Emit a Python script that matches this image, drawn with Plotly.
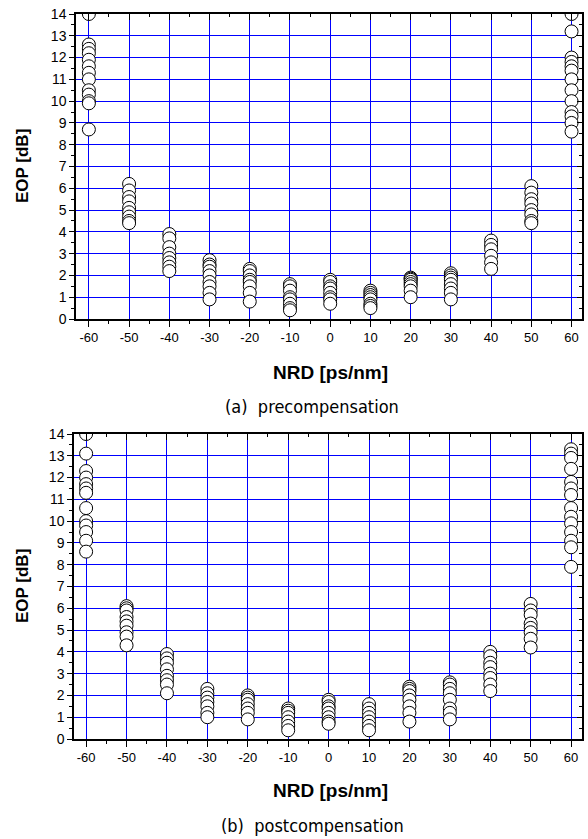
import plotly.graph_objects as go

# NRD positions [ps/nm]
nrd = [-60, -50, -40, -30, -20, -10, 0, 10, 20, 30, 40, 50, 60]

# (a) precompensation: EOP [dB] per NRD
pre_m60 = [14.0, 12.6, 12.4, 12.2, 11.9, 11.6, 11.3, 11.0, 10.5, 10.3, 10.0, 9.9, 8.7]
pre_m50 = [6.2, 5.9, 5.6, 5.4, 5.1, 4.9, 4.7, 4.5, 4.4]
pre_m40 = [3.9, 3.7, 3.3, 3.0, 2.8, 2.6, 2.4, 2.2]
pre_m30 = [2.7, 2.5, 2.4, 2.2, 2.0, 1.7, 1.5, 1.2, 0.9]
pre_m20 = [2.3, 2.2, 2.0, 1.8, 1.7, 1.5, 1.2, 0.8]
pre_m10 = [1.6, 1.5, 1.3, 1.0, 0.9, 0.7, 0.5, 0.4]
pre_0 = [1.8, 1.7, 1.5, 1.4, 1.2, 1.0, 0.9, 0.7]
pre_10 = [1.3, 1.2, 1.1, 1.0, 0.9, 0.7, 0.6, 0.5]
pre_20 = [1.9, 1.85, 1.8, 1.7, 1.6, 1.5, 1.3, 1.0]
pre_30 = [2.1, 2.0, 1.9, 1.8, 1.6, 1.4, 1.2, 0.9]
pre_40 = [3.6, 3.4, 3.2, 2.9, 2.6, 2.3]
pre_50 = [6.1, 5.8, 5.5, 5.3, 5.0, 4.8, 4.5, 4.4]
pre_60 = [14.0, 13.2, 12.0, 11.8, 11.6, 11.4, 11.0, 10.5, 10.0, 9.5, 9.3, 9.0, 8.6]

# (b) postcompensation: EOP [dB] per NRD
post_m60 = [14.0, 13.1, 12.3, 12.0, 11.7, 11.5, 11.3, 10.6, 10.0, 9.8, 9.5, 9.1, 8.6]
post_m50 = [6.1, 6.0, 5.9, 5.6, 5.4, 5.2, 4.9, 4.7, 4.3]
post_m40 = [3.9, 3.7, 3.5, 3.2, 2.9, 2.7, 2.5, 2.1]
post_m30 = [2.3, 2.1, 1.9, 1.7, 1.5, 1.2, 1.0]
post_m20 = [2.0, 1.9, 1.8, 1.6, 1.4, 1.2, 0.9]
post_m10 = [1.4, 1.3, 1.2, 1.0, 0.8, 0.6, 0.4]
post_0 = [1.8, 1.7, 1.5, 1.4, 1.2, 1.0, 0.8, 0.7]
post_10 = [1.6, 1.4, 1.2, 1.0, 0.8, 0.6, 0.4]
post_20 = [2.4, 2.3, 2.2, 2.0, 1.8, 1.5, 1.2, 0.8]
post_30 = [2.6, 2.5, 2.3, 2.1, 1.8, 1.4, 1.2, 0.9]
post_40 = [4.0, 3.8, 3.5, 3.3, 3.0, 2.8, 2.5, 2.2]
post_50 = [6.2, 5.9, 5.7, 5.3, 5.1, 4.9, 4.6, 4.2]
post_60 = [13.3, 13.1, 12.9, 12.4, 11.8, 11.5, 11.2, 10.6, 10.2, 9.9, 9.5, 9.1, 8.8, 7.9]

x_ticks = [-60, -50, -40, -30, -20, -10, 0, 10, 20, 30, 40, 50, 60]
y_ticks = list(range(0, 15))

pre_cols = [pre_m60, pre_m50, pre_m40, pre_m30, pre_m20, pre_m10, pre_0,
            pre_10, pre_20, pre_30, pre_40, pre_50, pre_60]
post_cols = [post_m60, post_m50, post_m40, post_m30, post_m20, post_m10, post_0,
             post_10, post_20, post_30, post_40, post_50, post_60]


def flatten(cols):
    xs, ys = [], []
    for xv, col in zip(nrd, cols):
        for v in col:
            xs.append(xv)
            ys.append(v)
    return xs, ys


FONT = "Liberation Sans, Arial, sans-serif"
GRID = "#0000ff"

marker = dict(symbol="circle", size=13, color="white",
              line=dict(color="black", width=1))

fig = go.Figure()
px_, py_ = flatten(pre_cols)
fig.add_trace(go.Scatter(x=px_, y=py_, mode="markers", marker=marker,
                         xaxis="x", yaxis="y", showlegend=False))
qx_, qy_ = flatten(post_cols)
fig.add_trace(go.Scatter(x=qx_, y=qy_, mode="markers", marker=marker,
                         xaxis="x2", yaxis="y2", showlegend=False))
# empty traces to anchor the mirrored (inside-tick) axes
fig.add_trace(go.Scatter(x=[None], y=[None], xaxis="x3", yaxis="y3",
                         showlegend=False, hoverinfo="skip"))
fig.add_trace(go.Scatter(x=[None], y=[None], xaxis="x4", yaxis="y4",
                         showlegend=False, hoverinfo="skip"))

top_x = [76 / 588, 582 / 588]
top_y = [1 - 319 / 839, 1 - 14 / 839]
bot_x = [74 / 588, 582 / 588]
bot_y = [1 - 739 / 839, 1 - 434 / 839]
xr_top = [-63.2, 62.6]
xr_bot = [-63.0, 62.7]


def xax(domain, rng, anchor):
    return dict(domain=domain, range=rng, anchor=anchor, automargin=False,
                tickmode="array", tickvals=x_ticks,
                ticktext=[str(t) for t in x_ticks],
                ticks="outside", ticklen=6, tickwidth=1.2, tickcolor="black",
                minor=dict(ticks="outside", ticklen=3, tickwidth=1.2,
                           tickcolor="black", dtick=5, tick0=0, showgrid=False),
                showgrid=True, gridcolor=GRID, gridwidth=1,
                showline=True, linecolor="black", linewidth=1.5,
                zeroline=False, tickfont=dict(family=FONT, size=13, color="black"))


def yax(domain, anchor):
    return dict(domain=domain, range=[0, 14], anchor=anchor, automargin=False,
                tickmode="array", tickvals=y_ticks,
                ticktext=[str(t) for t in y_ticks],
                ticks="outside", ticklen=5, tickwidth=1.2, tickcolor="black",
                minor=dict(ticks="outside", ticklen=3, tickwidth=1.2,
                           tickcolor="black", dtick=0.5, tick0=0, showgrid=False),
                showgrid=True, gridcolor=GRID, gridwidth=1,
                showline=True, linecolor="black", linewidth=1.5,
                zeroline=False, tickfont=dict(family=FONT, size=14, color="black"))


def xmirror(domain, rng, overlay, anchor):
    return dict(domain=domain, range=rng, overlaying=overlay, anchor=anchor,
                automargin=False,
                side="top", tickmode="array", tickvals=x_ticks,
                showticklabels=False, ticks="inside", ticklen=6, tickwidth=1.2,
                tickcolor="black",
                minor=dict(ticks="inside", ticklen=3, tickwidth=1.2,
                           tickcolor="black", dtick=5, tick0=0, showgrid=False),
                showgrid=False, showline=True, linecolor="black", linewidth=1.5,
                zeroline=False)


def ymirror(domain, overlay, anchor):
    return dict(domain=domain, range=[0, 14], overlaying=overlay, anchor=anchor,
                automargin=False,
                side="right", tickmode="array", tickvals=y_ticks,
                showticklabels=False, ticks="inside", ticklen=5, tickwidth=1.2,
                tickcolor="black",
                minor=dict(ticks="inside", ticklen=3, tickwidth=1.2,
                           tickcolor="black", dtick=0.5, tick0=0, showgrid=False),
                showgrid=False, showline=True, linecolor="black", linewidth=1.5,
                zeroline=False)


fig.update_layout(
    width=588, height=839,
    margin=dict(l=0, r=0, t=0, b=0, autoexpand=False),
    paper_bgcolor="white", plot_bgcolor="white",
    xaxis=xax(top_x, xr_top, "y"),
    yaxis=yax(top_y, "x"),
    xaxis2=xax(bot_x, xr_bot, "y2"),
    yaxis2=yax(bot_y, "x2"),
    xaxis3=xmirror(top_x, xr_top, "x", "y3"),
    yaxis3=ymirror(top_y, "y", "x3"),
    xaxis4=xmirror(bot_x, xr_bot, "x2", "y4"),
    yaxis4=ymirror(bot_y, "y2", "x4"),
)

bold = dict(family=FONT, size=19, color="black")
cap = dict(family="DejaVu Sans Condensed, Liberation Sans Narrow, " + FONT,
           size=18, color="black")
xc = 330 / 588
xcap = 312 / 588
annots = [
    dict(text="<b>NRD [ps/nm]</b>", x=xc, y=1 - 372 / 839, font=bold),
    dict(text="(a)  precompensation", x=xcap, y=1 - 407 / 839, font=cap),
    dict(text="<b>NRD [ps/nm]</b>", x=xc, y=1 - 790 / 839, font=bold),
    dict(text="(b)  postcompensation", x=xcap, y=1 - 825 / 839, font=cap),
    dict(text="<b>EOP [dB]</b>", x=22 / 588, y=1 - 166 / 839, textangle=-90,
         font=dict(family=FONT, size=17, color="black")),
    dict(text="<b>EOP [dB]</b>", x=22 / 588, y=1 - 586 / 839, textangle=-90,
         font=dict(family=FONT, size=17, color="black")),
]
for a in annots:
    a.update(xref="paper", yref="paper", showarrow=False,
             xanchor="center", yanchor="middle")
fig.update_layout(annotations=annots)

fig.write_html("out.html",
               config={"displayModeBar": False},
               post_script="document.body.style.margin='0px';"
                           "document.body.style.overflow='hidden';")
